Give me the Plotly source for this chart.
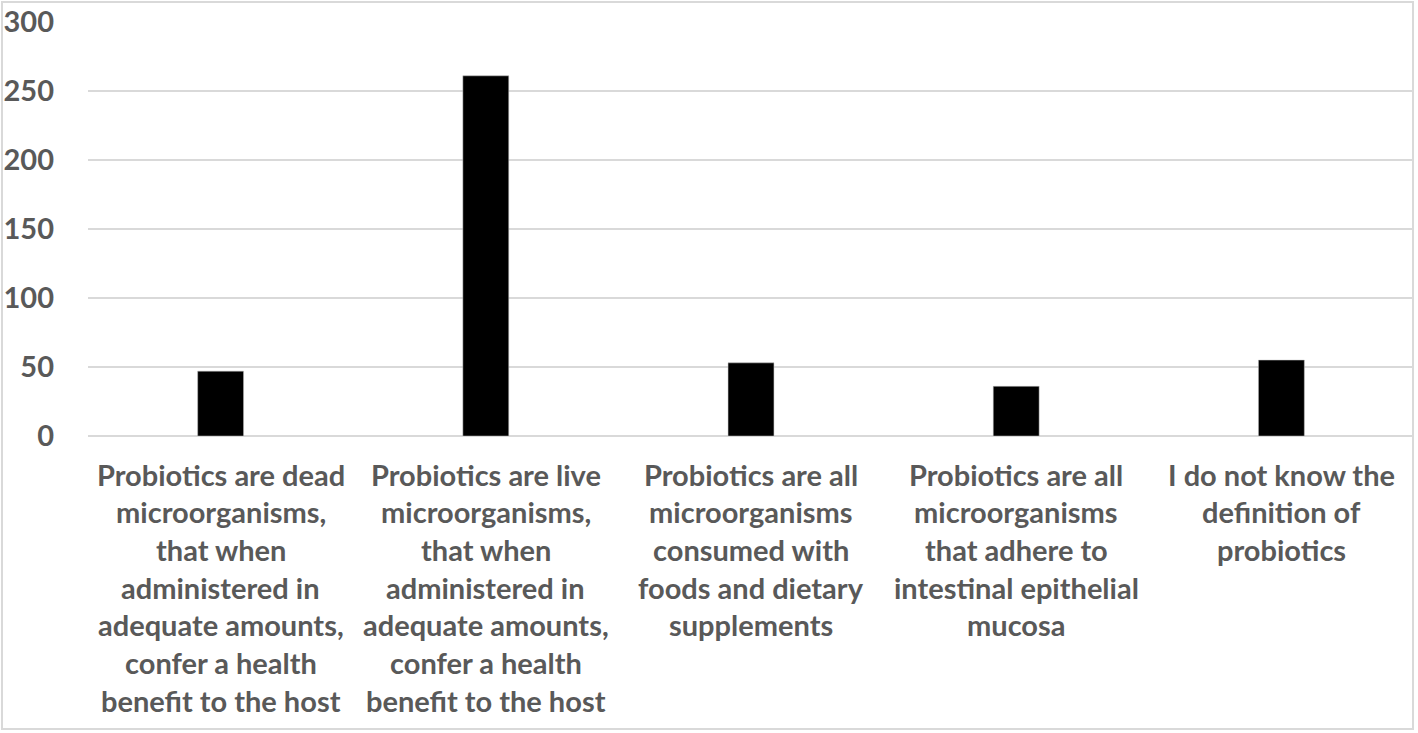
import plotly.graph_objects as go

categories = [
    "Probiotics are dead microorganisms, that when administered in adequate amounts, confer a health benefit to the host",
    "Probiotics are live microorganisms, that when administered in adequate amounts, confer a health benefit to the host",
    "Probiotics are all microorganisms consumed with foods and dietary supplements",
    "Probiotics are all microorganisms that adhere to intestinal epithelial mucosa",
    "I do not know the definition of probiotics",
]
label_lines = [
    ["Probiotics are dead", "microorganisms,", "that when", "administered in", "adequate amounts,", "confer a health", "benefit to the host"],
    ["Probiotics are live", "microorganisms,", "that when", "administered in", "adequate amounts,", "confer a health", "benefit to the host"],
    ["Probiotics are all", "microorganisms", "consumed with", "foods and dietary", "supplements"],
    ["Probiotics are all", "microorganisms", "that adhere to", "intestinal epithelial", "mucosa"],
    ["I do not know the", "definition of", "probiotics"],
]
values = [47, 261, 53, 36, 55]
y_ticks = [0, 50, 100, 150, 200, 250, 300]

W, H = 1418, 733
L, R, T, B = 88, 4, 22, 297
pw, ph = W - L - R, H - T - B

fig = go.Figure(go.Bar(
    x=categories, y=values,
    marker=dict(color="#000000", line=dict(color="#bfbfbf", width=0.5)),
))

annotations = []
for cat, lines in zip(categories, label_lines):
    for j, line in enumerate(lines):
        annotations.append(dict(
            x=cat, xref="x", y=0, yref="paper", yanchor="middle", xanchor="center",
            yshift=-(38 + j * 37.7), text=line, showarrow=False,
            font=dict(family="Lato", size=29, color="#595959", weight="bold"),
        ))

def px_x(p):
    return (p - L) / pw

def px_y(p):
    return (H - B - p) / ph

fig.update_layout(
    width=W, height=H,
    margin=dict(l=L, r=R, t=T, b=B),
    paper_bgcolor="white", plot_bgcolor="white",
    bargap=0.827,
    showlegend=False,
    annotations=annotations,
    shapes=[dict(type="rect", xref="paper", yref="paper",
                 x0=px_x(2), x1=px_x(1413), y0=px_y(2), y1=px_y(729),
                 line=dict(color="#d9d9d9", width=2), layer="below")],
    xaxis=dict(showticklabels=False, showgrid=False, zeroline=False, showline=False, ticks=""),
    yaxis=dict(range=[0, 300], tickvals=y_ticks, showgrid=True, gridcolor="#d9d9d9", gridwidth=1.5,
               zeroline=True, zerolinecolor="#d9d9d9", zerolinewidth=1.5, showline=False, ticks="",
               ticklabelstandoff=33,
               tickfont=dict(family="Lato", size=29, color="#595959", weight="bold")),
)

fig.write_html("out.html", config={"displayModeBar": False},
               post_script="document.body.style.margin='0';document.body.style.overflow='hidden';")
